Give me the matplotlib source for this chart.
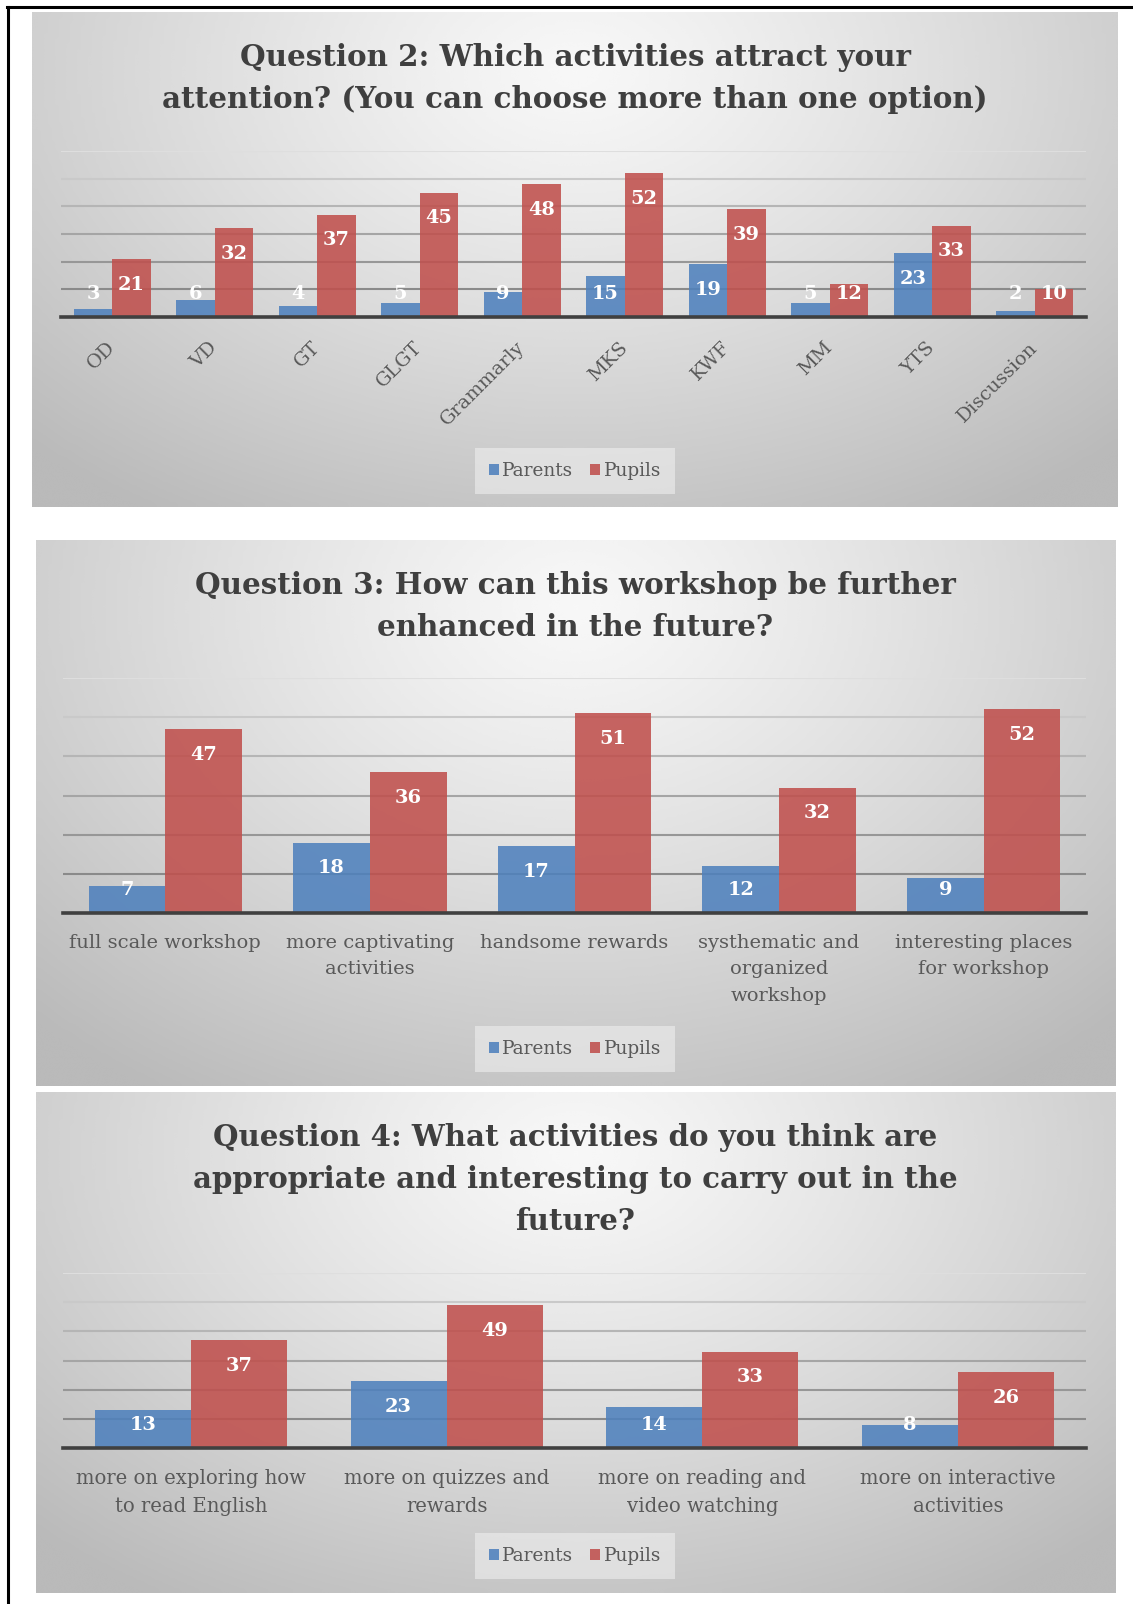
import numpy as np
import matplotlib
matplotlib.use("Agg")
import matplotlib.pyplot as plt
from matplotlib.lines import Line2D
from matplotlib.patches import Patch

plt.rcParams['font.family'] = ['DejaVu Serif']

# ---- data ----
q2_labels = ["OD", "VD", "GT", "GLGT", "Grammarly", "MKS", "KWF", "MM", "YTS", "Discussion"]
q2_parents = [3, 6, 4, 5, 9, 15, 19, 5, 23, 2]
q2_pupils = [21, 32, 37, 45, 48, 52, 39, 12, 33, 10]

q3_labels = ["full scale workshop", "more captivating\nactivities", "handsome rewards",
             "systhematic and\norganized\nworkshop", "interesting places\nfor workshop"]
q3_parents = [7, 18, 17, 12, 9]
q3_pupils = [47, 36, 51, 32, 52]

q4_labels = ["more on exploring how\nto read English", "more on quizzes and\nrewards",
             "more on reading and\nvideo watching", "more on interactive\nactivities"]
q4_parents = [13, 23, 14, 8]
q4_pupils = [37, 49, 33, 26]

series = ["Parents", "Pupils"]
colors = ["#4F81BD", "#C0504D"]

W, H = 1133, 1604
fig = plt.figure(figsize=(W / 100, H / 100), dpi=100)
renderer = fig.canvas.get_renderer()


def frac(x0, y0, x1, y1):
    return [x0 / W, 1 - y1 / H, (x1 - x0) / W, (y1 - y0) / H]


def text_size(s, width_px, weight="normal"):
    t = fig.text(0, 0, s, fontsize=20, fontweight=weight)
    w = t.get_window_extent(renderer).width
    t.remove()
    return 20 * width_px / w


# gradient for the panel backgrounds
yy, xx = np.mgrid[0:1:200j, 0:1:300j]
rr = np.clip(np.sqrt(((xx - 0.5) / 0.72) ** 2 + ((yy - 0.12) / 1.05) ** 2), 0, 1)
grad = 0.97 - 0.24 * rr ** 1.2

grid_cols = ["#8a8a8a", "#979797", "#a5a5a5", "#b5b5b5", "#c9c9c9", "#dedede"]


def panel(box, pbox, titles, title_ys, title_w, labels, parents, pupils,
          tick_w, tick_ref, rotate, tick_pad, legend_y):
    bg = fig.add_axes(frac(*box))
    bg.imshow(grad, cmap="gray", vmin=0, vmax=1, aspect="auto",
              extent=[0, 1, 0, 1], interpolation="bicubic")
    bg.set_axis_off()

    # title
    ts = text_size(titles[0], title_w, "bold")
    for s, ty in zip(titles, title_ys):
        fig.text(575 / W, 1 - ty / H, s, ha="center", va="center",
                 fontsize=ts, fontweight="bold", color="#3f3f3f")

    ax = fig.add_axes(frac(*pbox))
    ax.patch.set_alpha(0)
    x = np.arange(len(labels))
    wd = 0.375
    for i, v in enumerate(range(10, 70, 10)):
        ax.axhline(v, color=grid_cols[i], lw=1.5, zorder=1)
    ax.bar(x - wd / 2, parents, wd, color=colors[0], alpha=0.88, zorder=2, label=series[0])
    ax.bar(x + wd / 2, pupils, wd, color=colors[1], alpha=0.88, zorder=2, label=series[1])
    ax.axhline(0, color="#404040", lw=2.6, zorder=3, clip_on=False)
    ax.set_xlim(-0.5, len(labels) - 0.5)
    ax.set_ylim(0, 60)
    for sp in ax.spines.values():
        sp.set_visible(False)
    ax.set_yticks([])
    ax.set_xticks(x)

    ppu = (pbox[3] - pbox[1]) / 60.0
    lsize = text_size("47", 27, "bold")
    for k, vals in enumerate([parents, pupils]):
        for xi, v in zip(x, vals):
            yl = max(v - 25.6 / ppu, 23.0 / ppu)
            ax.text(xi + (k - 0.5) * wd, yl, str(v), ha="center", va="center",
                    color="white", fontsize=lsize, fontweight="bold", zorder=4)

    tsz = text_size(tick_ref, tick_w)
    if rotate:
        ax.set_xticklabels(labels, rotation=45, ha="right", va="center",
                           rotation_mode="anchor", fontsize=tsz, color="#595959")
    else:
        ax.set_xticklabels(labels, fontsize=tsz, color="#595959", linespacing=1.6)
    ax.tick_params(axis="x", length=0, pad=tick_pad)

    handles = [Patch(facecolor=colors[0], alpha=0.88), Patch(facecolor=colors[1], alpha=0.88)]
    leg = fig.legend(handles, series, loc="center", ncol=2,
                     bbox_to_anchor=(575 / W, 1 - legend_y / H),
                     bbox_transform=fig.transFigure, frameon=True, fancybox=False,
                     facecolor="#f2f2f2", edgecolor="none", framealpha=0.55,
                     fontsize=text_size("Parents", 71), handlelength=0.55,
                     handleheight=0.55, handletextpad=0.2, columnspacing=0.9,
                     borderpad=0.75)
    for t in leg.get_texts():
        t.set_color("#595959")


panel((32, 12, 1118, 507), (61, 151, 1086, 317),
      ["Question 2: Which activities attract your",
       "attention? (You can choose more than one option)"],
      [57, 100], 671, q2_labels, q2_parents, q2_pupils,
      110, "Grammarly", True, 20, 471)

panel((36, 540, 1116, 1086), (63, 678, 1086, 913),
      ["Question 3: How can this workshop be further",
       "enhanced in the future?"],
      [586, 628], 762, q3_labels, q3_parents, q3_pupils,
      191, "full scale workshop", False, 15, 1049)

panel((36, 1092, 1116, 1593), (63, 1273, 1086, 1448),
      ["Question 4: What activities do you think are",
       "appropriate and interesting to carry out in the",
       "future?"],
      [1137, 1179, 1221], 724, q4_labels, q4_parents, q4_pupils,
      230, "more on exploring how", False, 15, 1556)

# black frame lines (top and left)
fig.add_artist(Line2D([7 / W, 1], [1 - 7 / H, 1 - 7 / H], color="black", lw=2.2,
                      transform=fig.transFigure))
fig.add_artist(Line2D([8 / W, 8 / W], [0, 1 - 7 / H], color="black", lw=2.2,
                      transform=fig.transFigure))

fig.savefig("out.png", dpi=100, facecolor="white")
